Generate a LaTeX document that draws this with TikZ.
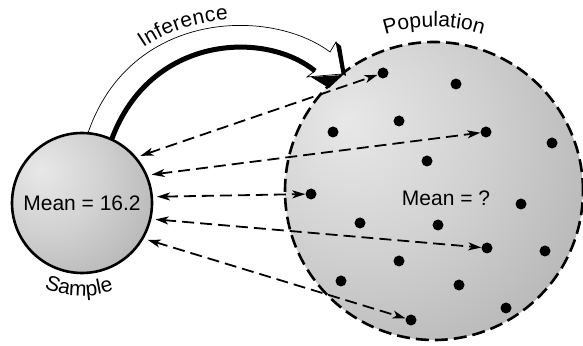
\documentclass[tikz,border=0pt]{standalone}
\usepackage{fontspec}
\setmainfont{Liberation Sans}
\usetikzlibrary{positioning, arrows.meta, decorations.text}

\newcommand\lblfont{\fontsize{21}{25}\selectfont}
\pgfdeclareradialshading{globeshade}{\pgfpoint{-15bp}{12bp}}{color(0bp)=(black!9); color(20bp)=(black!18); color(66bp)=(black!43); color(100bp)=(black!46)}

\begin{document}
\begin{tikzpicture}[
		x=1pt, y=1pt,
		every node/.style={font=\lblfont},
		globe/.style={circle, inner sep=0pt, draw, line width=2.6pt, shading=globeshade},
		pdot/.style={circle, fill=black, inner sep=0pt, minimum size=11pt},
		link/.style={{Stealth[length=13pt,width=8pt,inset=3.5pt]}-{Stealth[length=13pt,width=8pt,inset=3.5pt]}, line width=1.8pt, dash pattern=on 12pt off 6pt, shorten <=4pt},
		curvetext/.style={decorate, decoration={text along path, text align=center, text={|\lblfont|#1}}}
	]
	\useasboundingbox (0,0) rectangle (583,345);

	% Nodes
	\node[globe, dash pattern=on 13pt off 6pt, minimum size=298pt] (pop) at (434,154) {};
	\node (popmean) at (446,147) {Mean = ?};
	\foreach \n/\px/\py in {1/383/272, 2/456/261, 3/399/224, 4/333/213, 5/486/213, 6/552/202, 7/427/184, 8/311/151, 9/521/141, 10/360/122, 11/438/120, 12/487/97, 13/545/94, 14/399/84, 15/341/64, 16/459/60, 17/506/37, 18/411/25}
		\node[pdot] (d\n) at (\px,\py) {};

	% Inference arrow
	\coordinate (oend) at (330,293);
	\coordinate (iend) at (315,274);
	\filldraw[fill=white, line width=0.7pt] (90,205) -- (88,212) .. controls (130,335) and (270,338) .. (oend) -- (336,303) -- (342,271) -- (307,268) -- (iend) .. controls (265,315) and (150,310) .. (111.6,205.4);
	\fill (336,303) -- (341,299) -- (346,269) -- (342,271) -- cycle;
	\fill (311,268) -- (343,270) -- (329,257) -- (319,263) -- cycle;
	\draw[line width=5pt] (iend) .. controls (265,315) and (150,310) .. (111.6,205.4);

	\node[globe, minimum size=140pt] (sample) at (82,142) {Mean = 16.2};

	% Labels
	\path[decorate, decoration={text along path, text={|\lblfont|Inference}, raise=6pt, text align={left, left indent=100pt}}] (sample.85) .. controls (130,335) and (270,338) .. (oend);
	\path[curvetext=Population] (pop.center) ++(110:164pt) arc[start angle=110, end angle=70, radius=164pt];
	\path[curvetext=Sample] (sample.center) ++(238:93pt) arc[start angle=238, end angle=298, radius=93pt];

	% Connections
	\foreach \ang/\n in {40/1, 23/5, 5/8, 347/12, 330/18}
		\draw[link] (sample.\ang) -- (d\n);

\end{tikzpicture}
\end{document}
